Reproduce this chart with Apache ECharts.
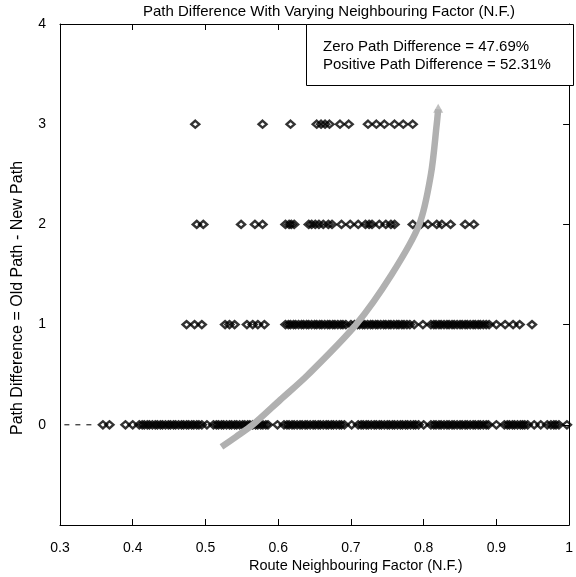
<!DOCTYPE html>
<html><head><meta charset="utf-8">
<script src="https://cdn.jsdelivr.net/npm/echarts@6/dist/echarts.min.js"></script>
<style>html,body{margin:0;padding:0;background:#fff}#c{width:576px;height:577px}</style>
</head><body><div id="c"></div>
<script>
const titleText = 'Path Difference With Varying Neighbouring Factor (N.F.)';
const xAxisTitle = 'Route Neighbouring Factor (N.F.)';
const yAxisTitle = 'Path Difference = Old Path - New Path';
const legendLines = ['Zero Path Difference = 47.69%', 'Positive Path Difference = 52.31%'];
const xTicks = [0.3, 0.4, 0.5, 0.6, 0.7, 0.8, 0.9, 1.0];
const yTicks = [-1, 0, 1, 2, 3, 4];

// N.F. values of routes at each path difference level
const nf3 = [0.486, 0.5785, 0.617, 0.653, 0.659, 0.6645, 0.6705, 0.685, 0.697, 0.7235, 0.735, 0.746, 0.760, 0.772, 0.785];
const nf2 = [0.488, 0.497, 0.549, 0.568, 0.5785, 0.610, 0.615, 0.618, 0.622, 0.642, 0.646, 0.651, 0.656, 0.662, 0.669, 0.674,
  0.687, 0.699, 0.710, 0.720, 0.725, 0.729, 0.739, 0.748, 0.755, 0.760, 0.785, 0.796, 0.806, 0.818, 0.825, 0.837, 0.857, 0.869];
const nf1 = [0.474, 0.485, 0.495, 0.527, 0.533, 0.540, 0.557, 0.565, 0.572, 0.581,
  0.610, 0.614, 0.617, 0.621, 0.624, 0.628, 0.632, 0.635, 0.639, 0.642, 0.646, 0.650, 0.653, 0.657, 0.660, 0.664, 0.668, 0.671, 0.675, 0.678, 0.682, 0.686, 0.689, 0.693,
  0.700,
  0.705, 0.709, 0.712, 0.716, 0.719, 0.723, 0.727, 0.730, 0.734, 0.737, 0.741, 0.745, 0.748, 0.752, 0.755, 0.759, 0.763, 0.766, 0.770, 0.773, 0.777, 0.781,
  0.787, 0.799,
  0.810, 0.814, 0.817, 0.821, 0.824, 0.828, 0.832, 0.835, 0.839, 0.842, 0.846, 0.850, 0.853, 0.857, 0.860, 0.864, 0.868, 0.871, 0.875, 0.878, 0.882, 0.886, 0.890,
  0.900, 0.912, 0.923, 0.932, 0.949];
const nf0 = [0.359, 0.368, 0.390, 0.400,
  0.409, 0.413, 0.416, 0.420, 0.423, 0.427, 0.431, 0.434, 0.438, 0.441, 0.445, 0.449, 0.452, 0.456, 0.459, 0.463, 0.467, 0.470, 0.474, 0.477, 0.481, 0.484, 0.488, 0.491, 0.495,
  0.502,
  0.511, 0.515, 0.518, 0.522, 0.525, 0.529, 0.533, 0.536, 0.540, 0.543, 0.547, 0.551, 0.554, 0.558, 0.561, 0.565, 0.569, 0.572, 0.576, 0.579, 0.583, 0.586,
  0.599,
  0.608, 0.612, 0.615, 0.619, 0.622, 0.626, 0.630, 0.633, 0.637, 0.640, 0.644, 0.648, 0.651, 0.655, 0.658, 0.662, 0.666, 0.669, 0.673, 0.676, 0.680, 0.684, 0.687, 0.691,
  0.701,
  0.710, 0.714, 0.717, 0.721, 0.724, 0.728, 0.732, 0.735, 0.739, 0.742, 0.746, 0.750, 0.753, 0.757, 0.760, 0.764, 0.768, 0.771, 0.775, 0.778, 0.782, 0.786, 0.789, 0.793,
  0.800,
  0.810, 0.814, 0.817, 0.821, 0.824, 0.828, 0.832, 0.835, 0.839, 0.842, 0.846, 0.850, 0.853, 0.857, 0.860, 0.864, 0.868, 0.871, 0.875, 0.878, 0.882, 0.886, 0.889,
  0.900,
  0.911, 0.915, 0.918, 0.922, 0.925, 0.929, 0.933, 0.936, 0.939,
  0.943, 0.952, 0.961, 0.970,
  0.975, 0.979, 0.982, 0.986, 0.997];
// trend arrow path (N.F., path difference)
const trendX = [0.522, 0.542, 0.565, 0.603, 0.641, 0.707, 0.756, 0.794, 0.810, 0.818, 0.820];
const trendY = [-0.22, -0.12, 0.00, 0.25, 0.50, 1.00, 1.50, 2.00, 2.50, 3.00, 3.15];
// dashed lead-in at zero level
const dashX = [0.306, 0.345];
const dashY = [0, 0];

const F = 'Liberation Sans, Arial, Helvetica, sans-serif';
const rowSeries = (xs, y) => ({
  type: 'scatter', data: xs.map(x => [x, y]), symbol: 'diamond', symbolSize: [8, 7],
  itemStyle: { color: 'rgba(255,255,255,0)', borderColor: '#000', borderWidth: 2.4 }, z: 3
});
const axisLineStyle = { show: true, onZero: false, lineStyle: { color: '#000', width: 1 } };

const chart = echarts.init(document.getElementById('c'), null, { renderer: 'canvas' });
chart.setOption({
  backgroundColor: '#fff',
  animation: false,
  grid: { left: 60, right: 2, top: 24, bottom: 52, containLabel: false },
  xAxis: [{
    type: 'value', min: 0.3, max: 1.0, interval: 0.1,
    axisLine: axisLineStyle,
    axisTick: { show: true, inside: true, length: 6, lineStyle: { color: '#000' } },
    axisLabel: { color: '#000', fontFamily: F, fontSize: 14, margin: 16, formatter: v => (Math.abs(v - 1) < 1e-9 ? '1' : v.toFixed(1)) },
    splitLine: { show: false }
  }, {
    type: 'value', position: 'top', min: 0.3, max: 1.0, interval: 0.1,
    axisLine: axisLineStyle,
    axisTick: { show: true, inside: true, length: 6, lineStyle: { color: '#000' } },
    axisLabel: { show: false }, splitLine: { show: false }
  }],
  yAxis: [{
    type: 'value', min: -1, max: 4, interval: 1,
    axisLine: axisLineStyle,
    axisTick: { show: false },
    axisLabel: { color: '#000', fontFamily: F, fontSize: 14, margin: 14, formatter: v => (v < 0 ? '' : String(v)) },
    splitLine: { show: false }
  }, {
    type: 'value', position: 'right', min: -1, max: 4, interval: 1,
    axisLine: axisLineStyle,
    axisTick: { show: true, inside: true, length: 6, lineStyle: { color: '#000' } },
    axisLabel: { show: false }, splitLine: { show: false }
  }],
  series: [
    { type: 'line', data: dashX.map((x, i) => [x, dashY[i]]), symbol: 'none', lineStyle: { color: '#000', width: 1, type: [5, 6] }, z: 2 },
    rowSeries(nf0, 0), rowSeries(nf1, 1), rowSeries(nf2, 2), rowSeries(nf3, 3),
    { type: 'line', data: trendX.map((x, i) => [x, trendY[i]]), smooth: 0.3, symbol: 'none',
      lineStyle: { color: '#b0b0b0', width: 6.5, cap: 'butt' }, z: 4 },
    { type: 'scatter', data: [[trendX[trendX.length - 1], trendY[trendY.length - 1]]], symbol: 'triangle', symbolSize: [10, 9],
      symbolOffset: [0, -1], itemStyle: { color: '#b0b0b0' }, z: 4 }
  ],
  graphic: [
    { type: 'text', left: 143, top: 4, style: { text: titleText, font: '15px ' + F, fill: '#000' } },
    { type: 'text', left: 249, top: 558, style: { text: xAxisTitle, font: '14.5px ' + F, fill: '#000' } },
    { type: 'text', x: 18, y: 298, rotation: Math.PI / 2, style: { text: yAxisTitle, font: '16px ' + F, fill: '#000', align: 'center', verticalAlign: 'middle' } },
    { type: 'rect', shape: { x: 306.5, y: 24.5, width: 267, height: 61 }, style: { fill: '#fff', stroke: '#000', lineWidth: 1 }, z: 10 },
    { type: 'text', x: 323, y: 39, style: { text: legendLines[0], font: '15px ' + F, fill: '#000' }, z: 11 },
    { type: 'text', x: 323, y: 57, style: { text: legendLines[1], font: '15px ' + F, fill: '#000' }, z: 11 }
  ]
});
</script></body></html>
